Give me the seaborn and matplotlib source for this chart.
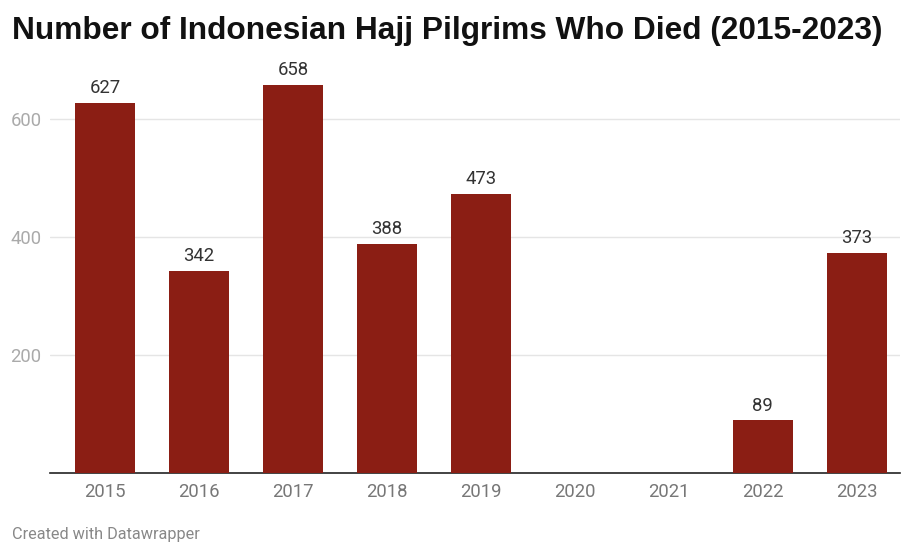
import matplotlib
matplotlib.use("Agg")
import matplotlib.pyplot as plt
import seaborn as sns
import pandas as pd

# data (2020/2021: no Indonesian pilgrims, no bar)
years = ["2015", "2016", "2017", "2018", "2019", "2020", "2021", "2022", "2023"]
deaths = [627, 342, 658, 388, 473, 0, 0, 89, 373]
yticks = [200, 400, 600]

df = pd.DataFrame({"year": years, "deaths": deaths})

sns.set_style("white")
plt.rcParams["font.family"] = ["Roboto", "DejaVu Sans"]

fig = plt.figure(figsize=(9.05, 5.42), dpi=100)
ax = fig.add_axes([50 / 905, 1 - 473 / 542, 850 / 905, 413 / 542])

sns.barplot(data=df, x="year", y="deaths", order=years, color="#8b1e14",
            saturation=1, width=0.64, linewidth=0, ax=ax, zorder=3)

for i, v in enumerate(deaths):
    if v > 0:
        ax.text(i, v + 10, str(v), ha="center", va="bottom",
                fontsize=13.3, color="#333333")

ax.set_xlim(-0.585, 8.46)
ax.set_ylim(0, 700)
ax.set_yticks(yticks)
ax.set_yticklabels([str(t) for t in yticks])
ax.yaxis.grid(True, color="#e5e5e5", linewidth=1, zorder=0)
ax.set_xlabel("")
ax.set_ylabel("")
for s in ["top", "right", "left"]:
    ax.spines[s].set_visible(False)
ax.spines["bottom"].set_color("#222222")
ax.spines["bottom"].set_linewidth(1.2)
ax.tick_params(axis="both", length=0, labelsize=13.3)
ax.tick_params(axis="x", pad=7, labelcolor="#777777")
ax.tick_params(axis="y", pad=6, labelcolor="#aaaaaa")

fig.text(12 / 905, 1 - 31 / 542, "Number of Indonesian Hajj Pilgrims Who Died (2015-2023)",
         fontsize=22.8, fontweight="bold", color="#111111", va="center", ha="left",
         family=["Liberation Sans", "DejaVu Sans"])
fig.text(12 / 905, 1 - 535 / 542, "Created with Datawrapper",
         fontsize=11.7, color="#888888", va="center", ha="left")

fig.savefig("out.png", dpi=100)
